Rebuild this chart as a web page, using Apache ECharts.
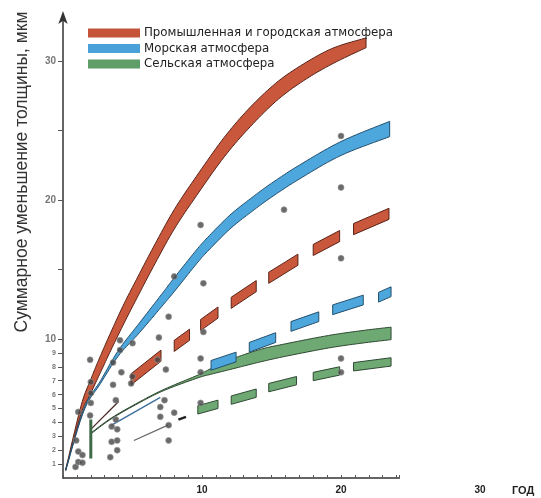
<!DOCTYPE html>
<html><head><meta charset="utf-8">
<script src="https://cdn.jsdelivr.net/npm/echarts@6.0.0/dist/echarts.min.js"></script>
<style>html,body{margin:0;padding:0;background:#fff}#c{width:541px;height:498px}</style>
</head><body><div id="c"></div>
<script>
// ---- labels / ticks ----
const legendNames = ['Промышленная и городская атмосфера', 'Морская атмосфера', 'Сельская атмосфера'];
const yAxisTitle = 'Суммарное уменьшение толщины, мкм';
const xAxisTitle = 'ГОД';
const yLabelValues = [1, 2, 3, 4, 5, 6, 7, 8, 9, 10, 20, 30];
const yTickValues = [1, 2, 3, 4, 5, 6, 7, 8, 9, 10, 15, 20, 25, 30];
const xLabelValues = [10, 20, 30];

// ---- solid bands (years, lower, upper) ----
const redT  = [0.2, 1.3, 2.0, 2.7, 3.45, 4.4, 5.4, 6.5, 8.0, 9.6, 11.6, 13.5, 15.5, 17.5, 19.5, 21.8];
const redLo = [0.55, 4.6, 6.1, 7.6, 9.2, 11.15, 13.1, 15.2, 17.9, 20.3, 23.1, 25.3, 27.25, 28.7, 29.85, 30.95];
const redHi = [0.65, 5.2, 7.1, 8.8, 10.5, 12.55, 14.5, 16.6, 19.3, 21.7, 24.5, 26.7, 28.55, 29.9, 30.95, 31.65];

const blueT  = [0.2, 1.5, 2.7, 4.0, 5.5, 7.2, 8.0, 9.6, 10.4, 12.0, 13.5, 15.0, 17.0, 20.0, 23.5];
const blueLo = [0.55, 4.82, 6.8, 8.8, 10.45, 12.45, 13.4, 15.4, 16.3, 17.9, 19.1, 20.2, 21.5, 23.2, 24.55];
const blueHi = [0.65, 4.98, 7.0, 9.2, 11.15, 13.35, 14.4, 16.4, 17.3, 18.9, 20.1, 21.2, 22.5, 24.2, 25.65];

const greenT  = [2.0, 3.5, 5.6, 7.3, 9.7, 10.6, 12.0, 14.2, 16.0, 19.1, 21.5, 23.6];
const greenLo = [3.17, 4.27, 5.47, 6.31, 7.2, 7.45, 7.8, 8.35, 8.75, 9.35, 9.7, 9.95];
const greenHi = [3.23, 4.33, 5.53, 6.39, 7.4, 7.85, 8.5, 9.25, 9.65, 10.25, 10.6, 10.85];

// ---- dashed bands: consecutive pairs are one dash (start, end) ----
const redDashT  = [4.9, 7.05, 8.0, 9.1, 9.9, 11.15, 12.1, 13.9, 14.8, 16.9, 18.0, 19.9, 20.9, 23.45];
const redDashLo = [6.7, 8.4, 9.1, 9.9, 10.6, 11.5, 12.2, 13.4, 14.0, 15.3, 16.0, 17.0, 17.5, 18.6];
const redDashHi = [7.5, 9.2, 9.9, 10.7, 11.4, 12.3, 13.0, 14.2, 14.8, 16.1, 16.8, 17.8, 18.3, 19.4];

const blueDashT  = [10.65, 12.45, 13.4, 15.3, 16.4, 18.4, 19.4, 21.6, 22.7, 23.6];
const blueDashLo = [7.75, 8.35, 9.05, 9.75, 10.55, 11.25, 11.75, 12.45, 12.65, 13.05];
const blueDashHi = [8.45, 9.05, 9.75, 10.45, 11.25, 11.95, 12.45, 13.15, 13.35, 13.75];

const greenDashT  = [9.7, 11.15, 12.1, 13.9, 14.8, 16.8, 18.0, 19.9, 20.9, 23.6];
const greenDashLo = [4.6, 5.0, 5.3, 5.8, 6.2, 6.7, 7.0, 7.4, 7.7, 8.05];
const greenDashHi = [5.2, 5.6, 5.9, 6.4, 6.8, 7.3, 7.6, 8.0, 8.3, 8.65];

// ---- thin lines ----
const darkLine = [[2.0, 3.5], [4.0, 5.5]];
const blueThinLine = [[3.5, 3.8], [7.0, 5.8]];
const grayThinLine = [[5.1, 2.7], [7.55, 3.8]];
const blackDash = [[8.3, 4.2], [8.85, 4.4]];
const greenBar = [[2.0, 1.4], [2.0, 4.2]];

// ---- measured points ----
const points = [
  [0.9,0.8],[1.1,1.15],[1.4,1.1],[1.1,1.9],[1.4,1.65],[0.95,2.7],[1.1,4.75],[1.95,4.5],[2.0,5.4],[2.0,6.1],[2.0,6.9],[1.95,8.5],
  [3.4,1.5],[3.9,2.0],[3.5,2.6],[3.9,2.7],[3.5,3.7],[3.9,3.5],[3.8,4.2],[3.8,5.6],[3.6,6.7],[4.2,7.6],[3.6,8.3],[4.1,9.2],[4.1,9.9],
  [4.9,6.8],[5.0,7.3],[5.0,9.7],
  [6.9,10.1],[7.6,11.6],[8.0,14.5],[7.4,7.8],[6.8,8.5],[7.3,5.6],[7.0,5.1],[7.0,4.4],[8.0,4.7],[7.6,3.8],[7.6,2.7],
  [9.9,18.2],[10.1,14.0],[10.1,10.5],[9.9,8.6],[9.9,7.6],[9.9,5.4],
  [15.9,19.3],[20.0,24.6],[20.0,20.9],[20.0,15.8],[20.0,8.6],[20.0,7.6]
];

const C = {
  red: '#c9573c', redEdge: '#5a2418',
  blue: '#4da6dc', blueEdge: '#24506e',
  green: '#6ea872', greenEdge: '#2f4a33'
};

// Catmull-Rom curve through screen points (rendering helper only)
function spline(p) {
  const out = [];
  const n = p.length;
  for (let i = 0; i < n - 1; i++) {
    const p0 = p[Math.max(0, i - 1)], p1 = p[i], p2 = p[i + 1], p3 = p[Math.min(n - 1, i + 2)];
    for (let s = 0; s < 10; s++) {
      const u = s / 10, u2 = u * u, u3 = u2 * u;
      out.push([
        0.5 * (2 * p1[0] + (-p0[0] + p2[0]) * u + (2 * p0[0] - 5 * p1[0] + 4 * p2[0] - p3[0]) * u2 + (-p0[0] + 3 * p1[0] - 3 * p2[0] + p3[0]) * u3),
        0.5 * (2 * p1[1] + (-p0[1] + p2[1]) * u + (2 * p0[1] - 5 * p1[1] + 4 * p2[1] - p3[1]) * u2 + (-p0[1] + 3 * p1[1] - 3 * p2[1] + p3[1]) * u3)
      ]);
    }
  }
  out.push(p[n - 1]);
  return out;
}

function solidBand(name, t, lo, hi, fill, edge) {
  return {
    type: 'custom', name: name, xAxisIndex: 0, yAxisIndex: 0, clip: false,
    itemStyle: { color: fill },
    data: [[0]],
    renderItem: function (params, api) {
      const low = [], up = [];
      for (let i = 0; i < t.length; i++) { low.push(api.coord([t[i], lo[i]])); up.push(api.coord([t[i], hi[i]])); }
      const sl = spline(low), su = spline(up);
      return { type: 'polygon', shape: { points: sl.concat(su.reverse()) }, style: { fill: fill, stroke: edge, lineWidth: 1, lineJoin: 'round' } };
    },
    z: 2
  };
}
function dashBand(name, t, lo, hi, fill, edge) {
  const d = [];
  for (let k = 0; k < t.length / 2; k++) d.push([k]);
  return {
    type: 'custom', name: name, xAxisIndex: 0, yAxisIndex: 0, clip: false,
    itemStyle: { color: fill },
    data: d,
    renderItem: function (params, api) {
      const k = api.value(0);
      const a = 2 * k, b = 2 * k + 1;
      const pts = [api.coord([t[a], lo[a]]), api.coord([t[b], lo[b]]), api.coord([t[b], hi[b]]), api.coord([t[a], hi[a]])];
      return { type: 'polygon', shape: { points: pts }, style: { fill: fill, stroke: edge, lineWidth: 1 } };
    },
    z: 2
  };
}
function thin(data, color, width) {
  return { type: 'line', data: data, symbol: 'none', xAxisIndex: 0, yAxisIndex: 0,
    lineStyle: { color: color, width: width }, z: 3, silent: true };
}

const chart = echarts.init(document.getElementById('c'), null, { renderer: 'canvas' });
const FONT = 'Liberation Sans';
chart.setOption({
  backgroundColor: '#fff',
  animation: false,
  textStyle: { fontFamily: FONT },
  grid: [
    { left: 63, top: 15, width: 336.4, height: 463 },
    { left: 63, top: 15, width: 417, height: 463 }
  ],
  legend: {
    orient: 'vertical', left: 88, top: 27, padding: 0, itemWidth: 52, itemHeight: 9, itemGap: 3.5,
    icon: 'rect', selectedMode: false,
    textStyle: { fontFamily: 'DejaVu Sans', fontSize: 11.8, color: '#222', lineHeight: 12, padding: [0, 0, 0, -1] },
    data: [
      { name: legendNames[0], itemStyle: { color: '#c4533a' } },
      { name: legendNames[1], itemStyle: { color: '#4aa0d8' } },
      { name: legendNames[2], itemStyle: { color: '#5f9d6a' } }
    ]
  },
  xAxis: [
    { type: 'value', gridIndex: 0, min: 0, max: 24.2, interval: 1,
      axisLine: { show: true, lineStyle: { color: '#333', width: 1.5 } },
      axisTick: { show: true, inside: true, length: 3, lineStyle: { color: '#555' } },
      axisLabel: { show: false }, splitLine: { show: false } },
    { type: 'value', gridIndex: 1, min: 0, max: 30, interval: 10,
      axisLine: { show: false }, axisTick: { show: false }, splitLine: { show: false },
      axisLabel: { show: true, customValues: xLabelValues, margin: 7, fontSize: 10, fontWeight: 'bold', color: '#222' },
      name: xAxisTitle, nameLocation: 'end', nameGap: 32,
      nameTextStyle: { fontSize: 11, fontWeight: 'bold', color: '#222', verticalAlign: 'top', padding: [7, 0, 0, 0] } }
  ],
  yAxis: [
    { type: 'value', gridIndex: 0, min: 0, max: 33.3,
      axisLine: { show: true, symbol: ['none', 'arrow'], symbolSize: [7, 13], symbolOffset: [0, 4], lineStyle: { color: '#333', width: 1.5 } },
      axisTick: { show: true, customValues: yTickValues, length: 5, lineStyle: { color: '#555' } },
      axisLabel: { show: true, customValues: yLabelValues, margin: 7,
        formatter: function (v) { return v >= 10 ? '{b|' + v + '}' : '{s|' + v + '}'; },
        rich: { s: { fontSize: 7, color: '#777', fontWeight: 'bold' }, b: { fontSize: 10, color: '#777', fontWeight: 'bold' } } },
      splitLine: { show: false } },
    { type: 'value', gridIndex: 1, min: 0, max: 33.3, show: false }
  ],
  graphic: [
    { type: 'text', x: 22, y: 172, rotation: Math.PI / 2,
      style: { text: yAxisTitle, font: '17.5px "Liberation Sans"', fill: '#333', textAlign: 'center', textVerticalAlign: 'middle' } }
  ],
  series: [
    solidBand(legendNames[0], redT, redLo, redHi, C.red, C.redEdge),
    solidBand(legendNames[1], blueT, blueLo, blueHi, C.blue, C.blueEdge),
    solidBand(legendNames[2], greenT, greenLo, greenHi, C.green, C.greenEdge),
    dashBand('red-dash', redDashT, redDashLo, redDashHi, C.red, C.redEdge),
    dashBand('blue-dash', blueDashT, blueDashLo, blueDashHi, C.blue, C.blueEdge),
    dashBand('green-dash', greenDashT, greenDashLo, greenDashHi, C.green, C.greenEdge),
    thin(darkLine, '#4a2a28', 1.3),
    thin(blueThinLine, '#3a6c9a', 1.3),
    thin(grayThinLine, '#666', 1.2),
    thin(blackDash, '#222', 2.5),
    thin(greenBar, '#3f6a48', 3),
    { type: 'scatter', xAxisIndex: 0, yAxisIndex: 0, data: points, symbolSize: 6,
      itemStyle: { color: '#454545', borderColor: '#999', borderWidth: 0.8 }, z: 5 }
  ]
});
</script></body></html>
